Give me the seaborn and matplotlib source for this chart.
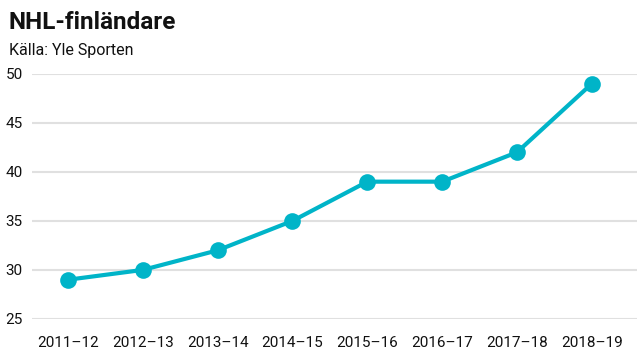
import matplotlib
matplotlib.use("Agg")
import matplotlib.pyplot as plt
import seaborn as sns
import pandas as pd

seasons = ["2011–12", "2012–13", "2013–14", "2014–15", "2015–16", "2016–17", "2017–18", "2018–19"]
players = [29, 30, 32, 35, 39, 39, 42, 49]
y_ticks = [25, 30, 35, 40, 45, 50]

COLOR = "#00b4c8"

sns.set_theme(style="white")
plt.rcParams["font.family"] = ["Roboto", "DejaVu Sans"]

df = pd.DataFrame({"Season": seasons, "Players": players})

fig = plt.figure(figsize=(6.4, 3.6), dpi=100)
ax = fig.add_axes([0.05, 0.114, 0.945, 0.681])

for t in y_ticks:
    ax.axhline(t, color="#e0e0e0", lw=1.5, zorder=0)

sns.lineplot(data=df, x="Season", y="Players", ax=ax, color=COLOR, lw=3,
             marker="o", markersize=12, markeredgewidth=0, sort=False)

ax.set_xlim(-0.48, 7.6)
ax.set_ylim(25, 50)
ax.set_yticks(y_ticks)
ax.set_xlabel("")
ax.set_ylabel("")
for s in ax.spines.values():
    s.set_visible(False)
ax.tick_params(axis="both", length=0, labelsize=11, colors="#111111")
ax.tick_params(axis="x", pad=12)
for lbl in ax.get_yticklabels():
    lbl.set_horizontalalignment("left")
    lbl.set_x(-0.036)

fig.text(0.014, 0.938, "NHL-finländare", fontsize=17.5, fontweight="bold",
         va="center", ha="left", color="#111111")
fig.text(0.014, 0.86, "Källa: Yle Sporten", fontsize=11.5, va="center",
         ha="left", color="#111111")

fig.savefig("out.png", dpi=100)
